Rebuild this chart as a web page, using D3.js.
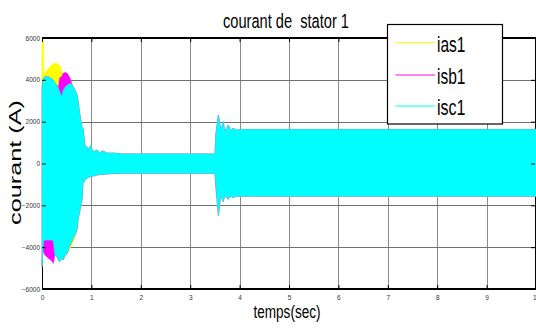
<!DOCTYPE html>
<html>
<head>
<meta charset="utf-8">
<script src="https://cdn.jsdelivr.net/npm/d3@7"></script>
<style>
html,body{margin:0;padding:0;background:#fff;}
svg{display:block;}
text{white-space:pre;}
</style>
</head>
<body>
<svg id="chart" width="536" height="329"></svg>
<script>
// ---- data (envelopes of the three stator currents) ----
const time  = [0,0.01,0.03,0.04,0.06,0.13,0.20,0.23,0.26,0.30,0.33,0.36,0.40,0.43,0.47,0.51,0.55,0.57,0.60,0.63,0.67,0.71,0.73,0.77,0.79,0.81,0.83,0.87,0.91,0.95,0.99,1.03,1.07,1.11,1.17,1.23,1.32,1.45,1.60,3.50,3.52,3.57,3.62,3.67,3.70,3.77,3.82,3.87,3.94,4.10,10];
const iscHi = [3500,3800,4070,4100,4150,4150,4050,3990,3850,3750,3600,3430,3190,3510,3650,3750,3800,3830,3800,3670,3500,3270,3000,2300,2000,1750,1700,880,760,700,880,550,600,650,500,600,500,500,460,460,1400,2320,1600,2000,1520,1840,1580,1680,1600,1630,1630];
const iscLo = [-4930,-4450,-3700,-3680,-3660,-3660,-3660,-3700,-4370,-4450,-4610,-4690,-4520,-4610,-4370,-4300,-4000,-3900,-3750,-3580,-3400,-3150,-2700,-2220,-1950,-1740,-950,-790,-710,-650,-620,-600,-580,-550,-530,-510,-500,-480,-470,-470,-1030,-2500,-1500,-1830,-1500,-1710,-1550,-1620,-1560,-1560,-1560];
const iasHi = [5950,5900,5800,4100,4310,4550,4710,4790,4790,4790,4710,4710,4390,4310,4200,4000,3800,3830,3800,3670,3500,3270,3000,2300,2000,1750,1700,880,760,700,880,550,600,650,500,600,500,500,460,460,1450,2320,1600,2000,1520,1840,1580,1680,1600,1630,1630];
const iasLo = [-4930,-4450,-3700,-3680,-3660,-3660,-3660,-3700,-4370,-4450,-4610,-4690,-4520,-4610,-4370,-4300,-4150,-4050,-3900,-3750,-3500,-3150,-2700,-2220,-1950,-1740,-950,-790,-710,-650,-620,-600,-580,-550,-530,-510,-500,-480,-470,-470,-1200,-2500,-1500,-1830,-1500,-1710,-1550,-1620,-1560,-1560,-1560];
const isbHi = [3500,3800,4070,4100,4150,4150,4050,3990,3850,3750,3600,4100,4150,4310,4350,4310,4150,4070,3830,3670,3500,3270,3000,2300,2000,1750,1700,880,760,700,880,550,600,650,500,600,500,500,460,460,1400,2320,1600,2000,1520,1840,1580,1680,1600,1630,1630];
const isbLo = [-4930,-4450,-4130,-4250,-4370,-4530,-4660,-4770,-4370,-4450,-4610,-4690,-4520,-4610,-4370,-4300,-4000,-3900,-3750,-3580,-3400,-3150,-2700,-2220,-1950,-1740,-950,-790,-710,-650,-620,-600,-580,-550,-530,-510,-500,-480,-470,-470,-1100,-2500,-1500,-1830,-1500,-1710,-1550,-1620,-1560,-1560,-1560];

const seriesNames  = ["ias1","isb1","isc1"];
const seriesColors = ["#ffff00","#ff00ff","#00ffff"];
const xTicks = [0,1,2,3,4,5,6,7,8,9,10];
const yTicks = [-6000,-4000,-2000,0,2000,4000,6000];
const titleText = "courant de  stator 1";
const xLabelText = "temps(sec)";
const yLabelText = "courant (A)";

// ---- layout ----
const L = 42, R = 536, T = 38, B = 289;
const svg = d3.select("#chart");
const x = d3.scaleLinear().domain([0,10]).range([L,R]);
const y = d3.scaleLinear().domain([-6000,6000]).range([B,T]);

svg.append("rect").attr("width",536).attr("height",329).attr("fill","#fff");

// grid
const grid = svg.append("g").attr("stroke","#8a8a8a").attr("stroke-width",1).attr("shape-rendering","crispEdges");
grid.selectAll(".gx").data(xTicks.slice(1,-1)).join("line")
  .attr("x1",d=>Math.round(x(d))+0.5).attr("x2",d=>Math.round(x(d))+0.5).attr("y1",T).attr("y2",B);
grid.selectAll(".gy").data(yTicks.slice(1,-1)).join("line")
  .attr("stroke","#707070")
  .attr("x1",L).attr("x2",R).attr("y1",d=>Math.round(y(d))+0.5).attr("y2",d=>Math.round(y(d))+0.5);

// left / right frame
svg.append("line").attr("x1",L+0.5).attr("x2",L+0.5).attr("y1",T).attr("y2",B).attr("stroke","#000");
svg.append("line").attr("x1",R-0.5).attr("x2",R-0.5).attr("y1",T).attr("y2",B).attr("stroke","#000");

// data bands
const series = [
  {hi:iasHi, lo:iasLo},
  {hi:isbHi, lo:isbLo},
  {hi:iscHi, lo:iscLo}
];
series.forEach((s,i)=>{
  const pts = time.map((t,k)=>({t:t, hi:s.hi[k], lo:s.lo[k]}));
  const area = d3.area().x(d=>x(d.t)).y0(d=>y(d.lo)).y1(d=>y(d.hi));
  svg.append("path").datum(pts).attr("d",area)
    .attr("fill",seriesColors[i]).attr("stroke",seriesColors[i]).attr("stroke-width",0.6);
});

// axes (inward ticks)
const fontTick = "'Liberation Sans Narrow','Liberation Sans',Arial,sans-serif";
const ax = svg.append("g").attr("transform",`translate(0,${B})`)
  .call(d3.axisBottom(x).tickValues(xTicks).tickSizeInner(-4).tickSizeOuter(0).tickPadding(6).tickFormat(d3.format("d")));
const ay = svg.append("g").attr("transform",`translate(${L},0)`)
  .call(d3.axisLeft(y).tickValues(yTicks).tickSizeInner(-4).tickSizeOuter(0).tickPadding(2).tickFormat(d3.format("d")));
const at = svg.append("g").attr("transform",`translate(0,${T})`)
  .call(d3.axisTop(x).tickValues(xTicks).tickSizeInner(-4).tickSizeOuter(0).tickFormat(""));
const ar = svg.append("g").attr("transform",`translate(${R-1},0)`)
  .call(d3.axisRight(y).tickValues(yTicks).tickSizeInner(-4).tickSizeOuter(0).tickFormat(""));
[ax,ay,at,ar].forEach(g=>{
  g.select(".domain").remove();
  g.selectAll(".tick line").attr("stroke","#000");
  g.selectAll("text").attr("font-family",fontTick).attr("font-size",6.5).attr("fill","#333");
});

// top & bottom frame lines (thicker)
svg.append("line").attr("x1",L).attr("x2",R).attr("y1",T).attr("y2",T).attr("stroke","#000").attr("stroke-width",2);
svg.append("line").attr("x1",L).attr("x2",R).attr("y1",B).attr("y2",B).attr("stroke","#000").attr("stroke-width",2.2);

// titles
const fontMain = "'Liberation Sans',Arial,sans-serif";
svg.append("text").attr("x",286).attr("y",28).attr("text-anchor","middle")
  .attr("font-family",fontMain).attr("font-size",19.5).attr("xml:space","preserve")
  .attr("textLength",126).attr("lengthAdjust","spacingAndGlyphs").text(titleText);
svg.append("text").attr("x",287).attr("y",318).attr("text-anchor","middle")
  .attr("font-family",fontMain).attr("font-size",17.5)
  .attr("textLength",67).attr("lengthAdjust","spacingAndGlyphs").text(xLabelText);
svg.append("text").attr("transform","translate(21,162.5) rotate(-90)").attr("text-anchor","middle")
  .attr("font-family",fontMain).attr("font-size",16)
  .attr("textLength",125).attr("lengthAdjust","spacingAndGlyphs").text(yLabelText);

// legend
const lg = svg.append("g");
lg.append("rect").attr("x",387.5).attr("y",24.5).attr("width",115).attr("height",99.5)
  .attr("fill","#fff").attr("stroke","#000").attr("stroke-width",1.2);
const rowY = [42.5, 75, 106];
const baseY = [51.5, 83.5, 115];
seriesNames.forEach((n,i)=>{
  lg.append("line").attr("x1",395.5).attr("x2",435).attr("y1",rowY[i]).attr("y2",rowY[i])
    .attr("stroke",seriesColors[i]).attr("stroke-width",1.2);
  lg.append("text").attr("x",437).attr("y",baseY[i]).attr("font-family",fontMain).attr("font-size",22)
    .attr("textLength",28.5).attr("lengthAdjust","spacingAndGlyphs").text(n);
});
</script>
</body>
</html>
